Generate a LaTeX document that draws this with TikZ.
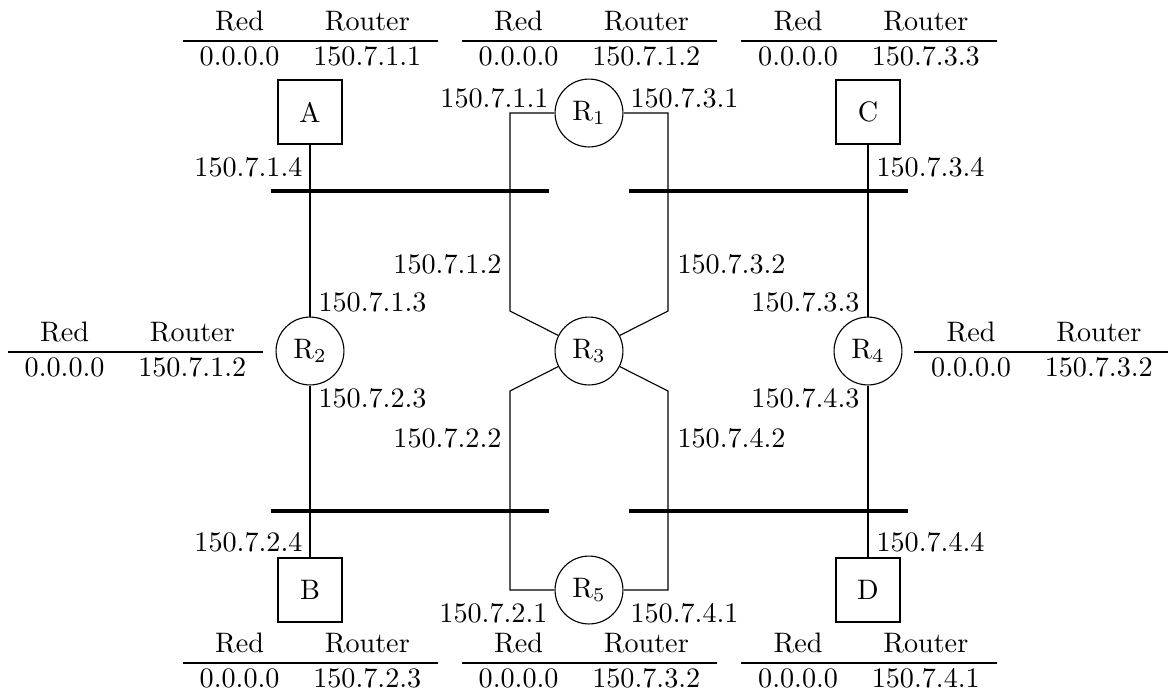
\documentclass[tikz,border=0pt]{standalone}
\begin{document}
\begin{tikzpicture}[x=0.355pt,y=-0.355pt,
  router/.style={draw,circle,minimum size=24.1pt,inner sep=0pt,line width=0.4pt},
  host/.style={draw,rectangle,minimum size=22.7pt,inner sep=0pt,line width=0.4pt},
  lbl/.style={inner sep=0pt},
  tbl/.style={inner sep=0pt},
  wire/.style={line width=0.4pt},
  bus/.style={line width=1.7pt}]
\useasboundingbox (0,0) rectangle (1168,691);
% tables
\newcommand{\rtab}[1]{\begin{tabular}{cc}Red & Router\\ \hline 0.0.0.0 & #1\end{tabular}}
\node[tbl] (tA) at (310.5,41) {\rtab{150.7.1.1}};
\node[tbl] (tR1) at (589.5,41) {\rtab{150.7.1.2}};
\node[tbl] (tC) at (869,41) {\rtab{150.7.3.3}};
\node[tbl] (tR2) at (135.5,352) {\rtab{150.7.1.2}};
\node[tbl] (tR4) at (1042,352) {\rtab{150.7.3.2}};
\node[tbl] (tB) at (310.5,663) {\rtab{150.7.2.3}};
\node[tbl] (tR5) at (589.5,663) {\rtab{150.7.3.2}};
\node[tbl] (tD) at (869,663) {\rtab{150.7.4.1}};
% devices
\node[host] (A) at (310,112) {A};
\node[host] (C) at (868,112) {C};
\node[host] (B) at (310,590) {B};
\node[host] (D) at (868,590) {D};
\node[router] (R1) at (589,113) {R$_1$};
\node[router] (R2) at (310,351) {R$_2$};
\node[router] (R3) at (589,351) {R$_3$};
\node[router] (R4) at (868,351) {R$_4$};
\node[router] (R5) at (589,590) {R$_5$};
% bus coordinates
\coordinate (b1a) at (271,191); \coordinate (b1b) at (549,191);
\coordinate (b2a) at (629,191); \coordinate (b2b) at (908,191);
\coordinate (b3a) at (271,511); \coordinate (b3b) at (549,511);
\coordinate (b4a) at (629,511); \coordinate (b4b) at (908,511);
\draw[bus] (b1a) -- (b1b);
\draw[bus] (b2a) -- (b2b);
\draw[bus] (b3a) -- (b3b);
\draw[bus] (b4a) -- (b4b);
% bends
\coordinate (k1) at (510,311); \coordinate (k2) at (668,311);
\coordinate (k3) at (510,391); \coordinate (k4) at (668,391);
% wires
\draw[wire] (A.south) -- (R2.north);
\draw[wire] (R2.south) -- (B.north);
\draw[wire] (C.south) -- (R4.north);
\draw[wire] (R4.south) -- (D.north);
\draw[wire] (R1.west) -| (k1) -- (R3);
\draw[wire] (R1.east) -| (k2) -- (R3);
\draw[wire] (R5.west) -| (k3) -- (R3);
\draw[wire] (R5.east) -| (k4) -- (R3);
% address labels
\node[lbl,anchor=east] (a1) at (303,167) {150.7.1.4};
\node[lbl,anchor=west] (a2) at (876,167) {150.7.3.4};
\node[lbl,anchor=east] (a3) at (549,98) {150.7.1.1};
\node[lbl,anchor=west] (a4) at (630,98) {150.7.3.1};
\node[lbl,anchor=east] (a5) at (502,264) {150.7.1.2};
\node[lbl,anchor=west] (a6) at (677,264) {150.7.3.2};
\node[lbl,anchor=west] (a7) at (318,302) {150.7.1.3};
\node[lbl,anchor=east] (a8) at (860,302) {150.7.3.3};
\node[lbl,anchor=west] (a9) at (318,398) {150.7.2.3};
\node[lbl,anchor=east] (a10) at (860,398) {150.7.4.3};
\node[lbl,anchor=east] (a11) at (502,438) {150.7.2.2};
\node[lbl,anchor=west] (a12) at (677,438) {150.7.4.2};
\node[lbl,anchor=east] (a13) at (303,542) {150.7.2.4};
\node[lbl,anchor=west] (a14) at (876,542) {150.7.4.4};
\node[lbl,anchor=east] (a15) at (548,613) {150.7.2.1};
\node[lbl,anchor=west] (a16) at (630,613) {150.7.4.1};
\end{tikzpicture}
\end{document}
